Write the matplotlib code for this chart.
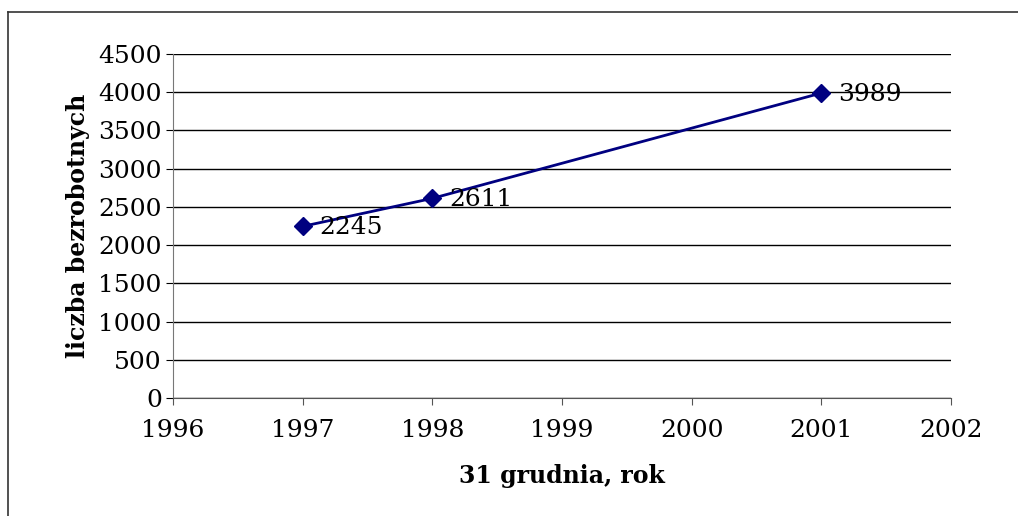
import matplotlib
matplotlib.use("Agg")
import matplotlib.pyplot as plt
from matplotlib.lines import Line2D

# dane: liczba bezrobotnych na 31 grudnia
years = [1997, 1998, 2001]
unemployed = [2245, 2611, 3989]
xticks = [1996, 1997, 1998, 1999, 2000, 2001, 2002]
yticks = [0, 500, 1000, 1500, 2000, 2500, 3000, 3500, 4000, 4500]

plt.rcParams['font.family'] = ['DejaVu Serif']

fig = plt.figure(figsize=(10.18, 5.16), dpi=100)
ax = fig.add_axes([0.1699, 0.2287, 0.7643, 0.6667])

ax.plot(years, unemployed, color='#000080', lw=2, marker='D',
        markersize=9, markerfacecolor='#000080', markeredgecolor='#000080', zorder=3)
for x, y in zip(years, unemployed):
    ax.annotate(str(y), (x, y), xytext=(12, -1), textcoords='offset points',
                va='center', ha='left', fontsize=18, zorder=4)

ax.set_xlim(1996, 2002)
ax.set_ylim(0, 4500)
ax.set_xticks(xticks)
ax.set_yticks(yticks)
ax.yaxis.grid(True, color='black', lw=1)
ax.set_axisbelow(True)
ax.tick_params(axis='both', labelsize=18, direction='out', length=5)
ax.tick_params(axis='x', color='#555555', pad=10)
ax.tick_params(axis='y', color='black', pad=3)

for s in ['top', 'right']:
    ax.spines[s].set_visible(False)
ax.spines['left'].set_color('#777777')
ax.spines['bottom'].set_color('#555555')

ax.set_xlabel('31 grudnia, rok', fontsize=17, fontweight='bold', labelpad=16)
ax.set_ylabel('liczba bezrobotnych', fontsize=17, fontweight='bold', labelpad=6)

# ramka wykresu (lewa i górna krawędź)
fig.add_artist(Line2D([8/1018, 8/1018], [0, 1 - 12/516], color='#333333', lw=1.2,
                      transform=fig.transFigure))
fig.add_artist(Line2D([8/1018, 1], [1 - 12/516, 1 - 12/516], color='#333333', lw=1.2,
                      transform=fig.transFigure))

fig.savefig('out.png', dpi=100)
